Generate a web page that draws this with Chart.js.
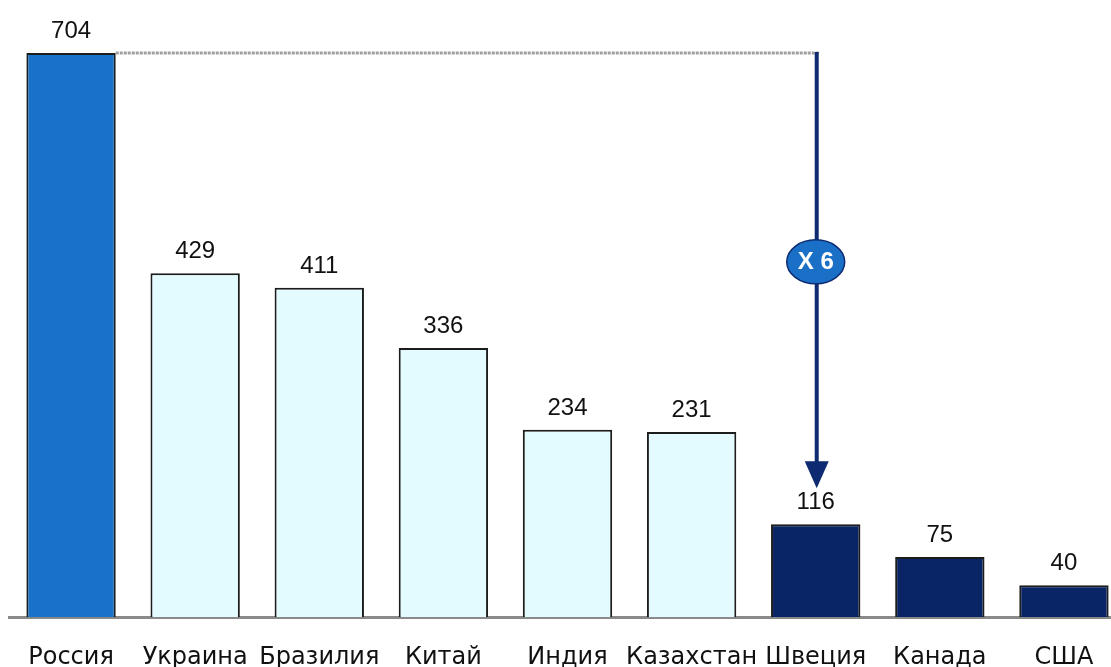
<!DOCTYPE html>
<html>
<head>
<meta charset="utf-8">
<script src="https://cdn.jsdelivr.net/npm/chart.js@4.4.1/dist/chart.umd.min.js"></script>
<style>
  html, body { margin: 0; padding: 0; background: #fff; overflow: hidden; }
  #wrap { position: absolute; left: 0; top: 0; width: 1111px; height: 667px; overflow: hidden; }
</style>
</head>
<body>
<div id="wrap"><canvas id="myChart" width="1126" height="698"></canvas></div>
<script>
// countries and values
var countries = ['Россия', 'Украина', 'Бразилия', 'Китай', 'Индия', 'Казахстан', 'Швеция', 'Канада', 'США'];
var values = [704, 429, 411, 336, 234, 231, 116, 75, 40];
// group of each bar: 0 = Russia, 1 = CIS/BRIC, 2 = West
var groups = [0, 1, 1, 1, 1, 1, 2, 2, 2];
var ratioText = 'X 6';

var groupColors = ['#1a72c8', '#e3fbfe', '#0a2566'];

// value labels over the bars
var valueLabels = {
  id: 'valueLabels',
  afterDatasetsDraw: function (chart) {
    var ctx = chart.ctx;
    var meta = chart.getDatasetMeta(0);
    ctx.save();
    ctx.font = '24px "Liberation Sans", Arial, sans-serif';
    ctx.fillStyle = '#111';
    ctx.textAlign = 'center';
    ctx.textBaseline = 'alphabetic';
    meta.data.forEach(function (bar, i) {
      ctx.fillText(values[i], bar.x, bar.y - 15);
    });
    ctx.restore();
  }
};

// dotted line from Russia, arrow down to Sweden with the "X 6" badge
var ratioArrow = {
  id: 'ratioArrow',
  afterDatasetsDraw: function (chart) {
    var ctx = chart.ctx;
    var meta = chart.getDatasetMeta(0);
    var from = meta.data[0];
    var to = meta.data[6];
    var yTop = from.y;
    var x = to.x + 1;
    var tip = to.y - 36;
    var headLen = 27;

    ctx.save();
    // dotted guide
    ctx.strokeStyle = '#a0a0a0';
    ctx.lineWidth = 3;
    ctx.setLineDash([3, 1]);
    ctx.beginPath();
    ctx.moveTo(from.x + from.width / 2, yTop);
    ctx.lineTo(x + 3, yTop);
    ctx.stroke();
    ctx.setLineDash([]);

    // shaft
    ctx.strokeStyle = '#0e2b72';
    ctx.lineWidth = 4;
    ctx.beginPath();
    ctx.moveTo(x, yTop - 1);
    ctx.lineTo(x, tip - headLen + 2);
    ctx.stroke();

    // head
    ctx.fillStyle = '#0e2b72';
    ctx.beginPath();
    ctx.moveTo(x - 12, tip - headLen);
    ctx.lineTo(x + 12, tip - headLen);
    ctx.lineTo(x, tip);
    ctx.closePath();
    ctx.fill();

    // badge
    var by = yTop + (tip - yTop) * 0.48;
    ctx.fillStyle = '#1a6fc6';
    ctx.strokeStyle = '#0e2b72';
    ctx.lineWidth = 1.5;
    ctx.beginPath();
    ctx.ellipse(x - 1, by, 29, 22, 0, 0, Math.PI * 2);
    ctx.fill();
    ctx.stroke();
    ctx.fillStyle = '#fff';
    ctx.font = 'bold 24px "Liberation Sans", Arial, sans-serif';
    ctx.textAlign = 'center';
    ctx.textBaseline = 'middle';
    ctx.fillText(ratioText, x - 1, by + 1);
    ctx.restore();
  }
};

var ctx = document.getElementById('myChart').getContext('2d');
var chart = new Chart(ctx, {
  type: 'bar',
  data: {
    labels: countries,
    datasets: [{
      data: values,
      backgroundColor: groups.map(function (g) { return groupColors[g]; }),
      borderColor: '#1c1c1c',
      borderWidth: 2,
      barPercentage: 0.72,
      categoryPercentage: 1
    }]
  },
  options: {
    responsive: false,
    animation: false,
    layout: { padding: { left: 9, top: 0, right: 0, bottom: 0 } },
    plugins: {
      legend: { display: false },
      tooltip: { enabled: false }
    },
    scales: {
      x: {
        grid: { display: false, drawTicks: false },
        border: { display: true, color: '#8a8a8a', width: 3 },
        ticks: {
          color: '#111',
          padding: 26,
          autoSkip: false,
          maxRotation: 0,
          minRotation: 0,
          font: { family: '"DejaVu Sans", Verdana, sans-serif', size: 24, lineHeight: 1.2 }
        }
      },
      y: {
        display: false,
        min: 0,
        max: 770
      }
    }
  },
  plugins: [valueLabels, ratioArrow]
});
</script>
</body>
</html>
